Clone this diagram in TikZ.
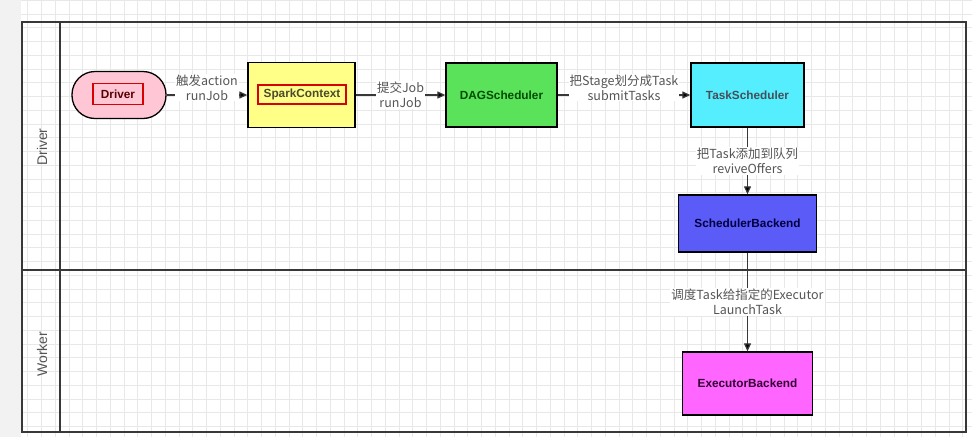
\documentclass[tikz,border=0pt]{standalone}
\usepackage{fontspec}
\setmainfont{Liberation Sans}
\newfontfamily\cjk{Noto Sans CJK SC}
\usetikzlibrary{arrows.meta}

\definecolor{gridgray}{HTML}{E8E8E8}
\definecolor{sidegray}{HTML}{F2F2F2}
\definecolor{lanegray}{HTML}{383838}
\definecolor{textgray}{HTML}{555555}
\definecolor{driverpink}{HTML}{FFC6D6}
\definecolor{sparkyellow}{HTML}{FFFF88}
\definecolor{daggreen}{HTML}{5AE25A}
\definecolor{taskcyan}{HTML}{55EEFF}
\definecolor{schedblue}{HTML}{5B5BF7}
\definecolor{execpink}{HTML}{FF66FF}

\begin{document}
\begin{tikzpicture}[x=1pt,y=-1pt,
  main_node/.style={draw=black,line width=1.3pt,inner sep=0pt,font=\fontsize{11.8}{14}\selectfont\bfseries},
  red_box/.style={draw=red!85!black,line width=1.3pt,inner sep=0pt,font=\fontsize{11.8}{14}\selectfont\bfseries},
  lane/.style={draw=lanegray,line width=1.4pt},
  lane_title/.style={rotate=90,text=textgray,font=\fontsize{14}{16}\selectfont},
  edge_label/.style={fill=white,align=center,inner sep=1pt,text=textgray,font=\cjk\fontsize{12.5}{15}\selectfont},
  flow/.style={draw=lanegray,line width=1.2pt,-{Triangle[length=8pt,width=7pt]}}]

    \useasboundingbox (0,0) rectangle (972,437);
    \fill[white] (0,0) rectangle (972,437);
    \fill[sidegray] (0,0) rectangle (21,437);
    \draw[gridgray,step=13.75pt] (21,0) grid (972,437);

    % swimlanes
    \draw[lane] (22,22) rectangle (966,432);
    \draw[lane] (60,22) -- (60,432);
    \draw[lane] (22,270) -- (966,270);
    \node[lane_title] (driverlane) at (42,147) {Driver};
    \node[lane_title] (workerlane) at (42,354) {Worker};

    \node[main_node,fill=driverpink,rounded corners=23pt,minimum width=94pt,minimum height=47pt] (driver) at (119,95) {};
    \node[red_box,text=red!35!black,minimum width=50pt,minimum height=21pt] (drivertxt) at (118,94) {Driver};
    \node[main_node,fill=sparkyellow,minimum width=107pt,minimum height=65pt] (spark) at (301.5,95) {};
    \node[red_box,text=olive!40!black,minimum width=88pt,minimum height=19pt] (sparktxt) at (302,94.5) {SparkContext};
    \node[main_node,fill=daggreen,text=green!30!black,minimum width=111pt,minimum height=64pt] (dag) at (501.5,95) {DAGScheduler};
    \node[main_node,fill=taskcyan,text=cyan!25!black,minimum width=113pt,minimum height=64pt] (task) at (747.5,95) {TaskScheduler};
    \node[main_node,fill=schedblue,text=blue!25!black,minimum width=138pt,minimum height=57pt] (sched) at (747.5,223.5) {SchedulerBackend};
    \node[main_node,fill=execpink,text=violet!40!black,minimum width=130pt,minimum height=63pt] (exec) at (747.5,383.5) {ExecutorBackend};

  \path[flow]
    (driver) edge node[edge_label,yshift=7.5pt] {触发action\\runJob} (spark)
    (spark) edge node[edge_label] {提交Job\\runJob} (dag)
    (dag) edge node[edge_label,yshift=7.5pt] {把Stage划分成Task\\submitTasks} (task)
    (task) edge node[edge_label] {把Task添加到队列\\reviveOffers} (sched)
    (sched) edge node[edge_label] {调度Task给指定的Executor\\LaunchTask} (exec);
\end{tikzpicture}
\end{document}
